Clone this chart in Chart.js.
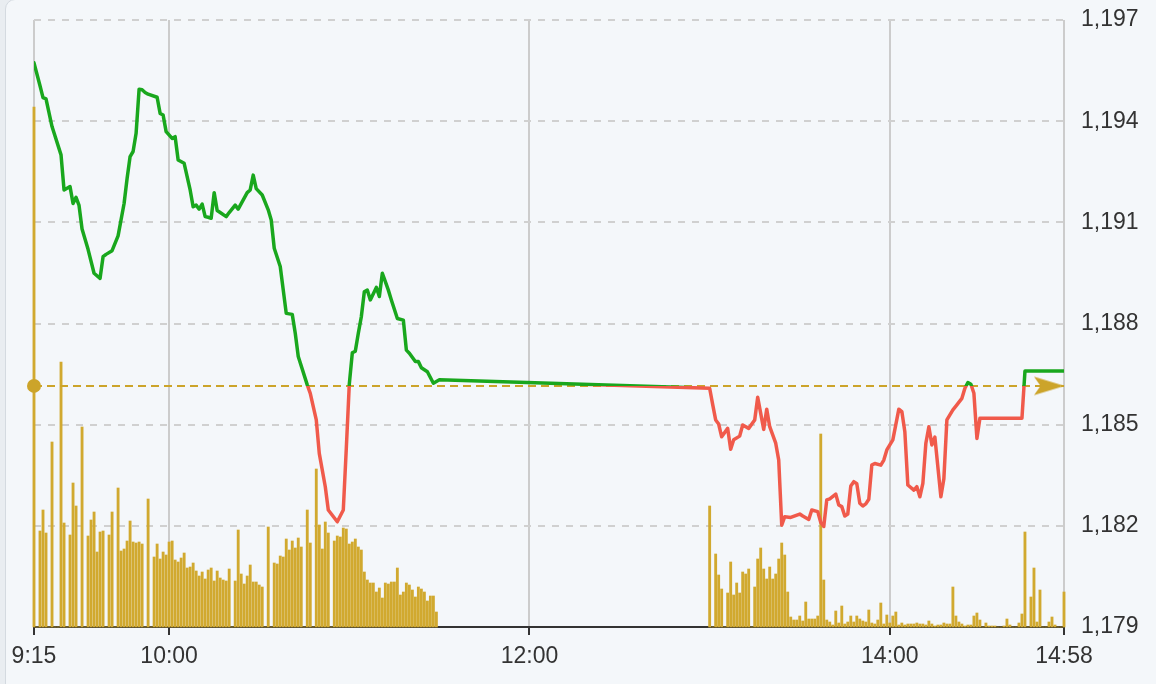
<!DOCTYPE html>
<html>
<head>
<meta charset="utf-8">
<script src="https://cdn.jsdelivr.net/npm/chart.js@4.4.0/dist/chart.umd.min.js"></script>
<style>
  html, body { margin: 0; padding: 0; width: 1156px; height: 684px; overflow: hidden; background: #e9edf1; }
  #card { position: absolute; left: 5px; top: -1px; width: 1200px; height: 720px; border: 1px solid #d4dae0; border-radius: 10px; background: #f4f7fa; }
  #wrap { position: absolute; left: 0; top: 0; width: 1156px; height: 684px; }
</style>
</head>
<body>
<div id="card"></div>
<div id="wrap"><canvas id="c"></canvas></div>
<script>
// ---------- data ----------
const xTickLabels = ['9:15', '10:00', '12:00', '14:00', '14:58'];
const yTickMin = 1179, yTickMax = 1197, yTickStep = 3;
const referencePrice = 1186.15;   // previous close (dashed gold line)

const priceTimes = [
  '9:15','9:17','9:18','9:19','9:21','9:24','9:25','9:27','9:28','9:29','9:30','9:31','9:33','9:35','9:37','9:38','9:39','9:41','9:43',
  '9:45','9:46','9:47','9:48','9:49','9:50','9:51','9:52','9:53','9:56','9:57','9:58','9:59','10:01','10:02','10:03','10:05','10:07',
  '10:08','10:09','10:10','10:11','10:12','10:13','10:14','10:15','10:16','10:17','10:19','10:20','10:22','10:23','10:26','10:27','10:28',
  '10:29','10:31','10:33','10:34','10:35','10:37','10:39','10:41','10:42','10:43','10:46','10:47','10:49','10:50','10:52','10:53','10:56',
  '10:58','10:59','11:00','11:01','11:02','11:03','11:04','11:05','11:06','11:07','11:09','11:10','11:11','11:12','11:13','11:14','11:16',
  '11:18','11:19','11:20','11:22','11:23','11:24','11:26','11:28','11:30',
  '13:00','13:01','13:02','13:03','13:04','13:06','13:07','13:08','13:10','13:11','13:13','13:15','13:16','13:18','13:19','13:20','13:22',
  '13:23','13:24','13:25','13:27','13:30','13:31','13:33','13:34','13:36','13:37','13:38','13:39','13:40','13:42','13:43','13:44','13:45',
  '13:46','13:47','13:48','13:49','13:50','13:51','13:52','13:53','13:54','13:55','13:57','13:58','13:59','14:01','14:03','14:04','14:05',
  '14:06','14:08','14:09','14:10','14:11','14:12','14:13','14:14','14:15','14:17','14:18','14:19','14:21','14:22','14:24','14:25','14:26',
  '14:27','14:28','14:29','14:30','14:44','14:45','14:58'
];
const priceValues = [
  1195.73,1195.05,1194.70,1194.66,1193.84,1193.00,1191.96,1192.06,1191.56,1191.74,1191.50,1190.80,1190.20,1189.49,1189.34,1189.98,1190.05,1190.16,1190.60,
  1191.56,1192.30,1192.95,1193.10,1193.64,1194.95,1194.93,1194.85,1194.80,1194.71,1194.23,1194.18,1193.69,1193.49,1193.54,1192.85,1192.75,1191.96,
  1191.46,1191.51,1191.39,1191.54,1191.17,1191.15,1191.12,1191.88,1191.35,1191.29,1191.17,1191.29,1191.51,1191.39,1191.88,1191.96,1192.40,
  1192.00,1191.81,1191.37,1191.07,1190.23,1189.69,1188.30,1188.27,1187.71,1187.02,1186.18,1185.93,1185.14,1184.15,1183.16,1182.47,1182.12,
  1182.47,1184.30,1186.20,1187.13,1187.18,1187.71,1188.20,1188.94,1188.99,1188.70,1189.07,1188.80,1189.49,1189.24,1188.99,1188.70,1188.15,
  1188.10,1187.21,1187.12,1186.87,1186.87,1186.69,1186.57,1186.23,1186.33,
  1186.08,1185.60,1185.14,1185.02,1184.64,1184.89,1184.27,1184.55,1184.66,1184.99,1184.89,1185.14,1185.81,1184.86,1185.46,1184.94,1184.45,
  1183.95,1182.02,1182.27,1182.25,1182.35,1182.29,1182.19,1182.47,1182.42,1182.10,1181.98,1182.77,1182.80,1182.94,1182.62,1182.57,1182.29,
  1182.35,1183.18,1183.31,1183.25,1182.67,1182.59,1182.65,1182.79,1183.80,1183.85,1183.80,1183.95,1184.25,1184.55,1185.46,1185.39,1184.79,
  1183.21,1183.06,1183.16,1182.86,1183.26,1184.45,1184.94,1184.40,1184.63,1182.86,1183.40,1185.14,1185.44,1185.55,1185.78,1186.08,1186.25,
  1186.20,1185.93,1184.59,1185.19,1185.19,1186.59,1186.59
];

// per-minute volume (relative units), morning session from 9:15, afternoon session from 13:00
const amVolumeStart = '9:15';
const amVolume = [
  520,0,96,117,94,0,185,0,0,265,104,0,92,144,121,0,200,0,91,107,115,75,95,96,0,92,115,0,139,76,78,86,106,85,84,85,83,0,128,0,
  70,83,68,75,72,85,86,67,65,69,74,59,60,64,56,51,55,48,57,59,46,56,49,47,46,58,0,46,97,53,43,51,62,45,45,42,40,0,100,0,
  64,63,71,70,88,77,86,79,89,80,0,117,84,0,158,102,78,105,94,0,86,91,90,99,98,83,85,88,80,77,55,47,44,44,35,39,29,44,43,45,
  45,59,32,35,44,42,37,30,40,38,35,26,31,31,15
];
const pmVolumeStart = '13:00';
const pmVolume = [
  121,0,73,52,38,0,34,65,32,44,34,55,53,58,0,40,68,79,58,48,60,48,53,68,84,72,35,10,7,7,11,6,25,8,8,8,11,193,47,7,
  5,2,16,4,21,3,5,11,5,11,8,6,5,17,4,3,7,24,3,12,4,11,15,2,4,2,3,3,3,4,3,3,2,6,3,1,2,2,4,3,
  3,40,11,5,3,1,2,2,11,14,7,0,4,1,1,1,0,0,1,8,2,0,0,4,13,95,0,30,59,5,37,0,0,5,10,2,0,0,35
];

// ---------- helpers ----------
function toMin(s) { const p = s.split(':').map(Number); return p[0] * 60 + p[1]; }
const xTickValues = xTickLabels.map(toMin);
const xMin = xTickValues[0], xMax = xTickValues[xTickValues.length - 1];

const priceData = priceTimes.map((t, i) => ({ x: toMin(t), y: priceValues[i] }));
const volData = amVolume.map((v, i) => ({ x: toMin(amVolumeStart) + i, y: v }))
  .concat(pmVolume.map((v, i) => ({ x: toMin(pmVolumeStart) + i, y: v })));

function fmtTime(v) { const h = Math.floor(v / 60), m = v % 60; return h + ':' + (m < 10 ? '0' : '') + m; }

const GREEN = '#19a71d', RED = '#f05a4b', GOLD = '#cca42a', VOL = '#d1a92f';

// arrow marker for the reference line end
const arrow = document.createElement('canvas');
arrow.width = 62; arrow.height = 21;
(function () {
  const a = arrow.getContext('2d');
  a.fillStyle = GOLD;
  a.beginPath();
  a.moveTo(31.5, 10.5);
  a.lineTo(1, 1.3);
  a.lineTo(7.5, 10.5);
  a.lineTo(1, 19.7);
  a.closePath();
  a.fill();
})();

function lineGradient(context) {
  const chart = context.chart;
  const { ctx, chartArea, scales } = chart;
  if (!chartArea) return GREEN;
  const yRef = scales.y.getPixelForValue(referencePrice);
  const stop = Math.min(1, Math.max(0, (yRef - chartArea.top) / (chartArea.bottom - chartArea.top)));
  const g = ctx.createLinearGradient(0, chartArea.top, 0, chartArea.bottom);
  g.addColorStop(0, GREEN);
  g.addColorStop(stop, GREEN);
  g.addColorStop(stop, RED);
  g.addColorStop(1, RED);
  return g;
}

const FONT = '"Helvetica Neue", Helvetica, Arial, "Liberation Sans", sans-serif';
Chart.defaults.font.family = FONT;
Chart.defaults.color = '#333';

new Chart(document.getElementById('c'), {
  type: 'line',
  data: {
    datasets: [
      {
        type: 'line',
        label: 'Price',
        data: priceData,
        yAxisID: 'y',
        borderColor: lineGradient,
        borderWidth: 3.5,
        pointRadius: 0,
        tension: 0,
        borderJoinStyle: 'round',
        borderCapStyle: 'round',
        order: 1
      },
      {
        type: 'line',
        label: 'Reference',
        data: [{ x: xMin, y: referencePrice }, { x: xMax, y: referencePrice }],
        yAxisID: 'y',
        borderColor: GOLD,
        borderWidth: 2,
        borderDash: [8, 5],
        pointStyle: ['circle', arrow],
        pointRadius: [7, 10],
        pointBackgroundColor: GOLD,
        pointBorderWidth: 0,
        clip: false,
        order: 2
      },
      {
        type: 'bar',
        label: 'Volume',
        data: volData,
        yAxisID: 'yVol',
        backgroundColor: VOL,
        borderWidth: 0,
        barThickness: 2.2,
        clip: false,
        order: 3
      }
    ]
  },
  options: {
    responsive: true,
    maintainAspectRatio: false,
    animation: false,
    events: [],
    layout: { padding: { left: 34, top: 20, right: 0, bottom: 0 } },
    plugins: { legend: { display: false }, tooltip: { enabled: false } },
    scales: {
      x: {
        type: 'linear',
        min: xMin,
        max: xMax,
        offset: false,
        afterBuildTicks: (scale) => { scale.ticks = xTickValues.map(v => ({ value: v })); },
        afterFit: (scale) => { scale.height = 57; },
        ticks: {
          autoSkip: false,
          maxRotation: 0,
          padding: 8,
          color: '#333',
          font: { size: 23 },
          callback: (v) => { const i = xTickValues.indexOf(v); return i >= 0 ? xTickLabels[i] : fmtTime(v); }
        },
        grid: {
          offset: false,
          color: '#cccccc',
          lineWidth: 2,
          drawTicks: true,
          tickLength: 8,
          tickColor: '#333',
          tickWidth: 2
        },
        border: { display: true, color: '#333', width: 2 }
      },
      y: {
        position: 'right',
        min: yTickMin,
        max: yTickMax,
        afterFit: (scale) => { scale.width = 92; scale.paddingTop = 0; scale.paddingBottom = 0; },
        ticks: {
          stepSize: yTickStep,
          padding: 17,
          color: '#333',
          font: { size: 23 },
          callback: (v) => Number(v).toLocaleString('en-US')
        },
        grid: { color: '#d0d0d0', lineWidth: 2, drawTicks: false },
        border: { display: false, dash: [7, 7] }
      },
      yVol: {
        display: false,
        min: 0,
        max: 607,
        grid: { display: false }
      }
    }
  }
});
</script>
</body>
</html>
